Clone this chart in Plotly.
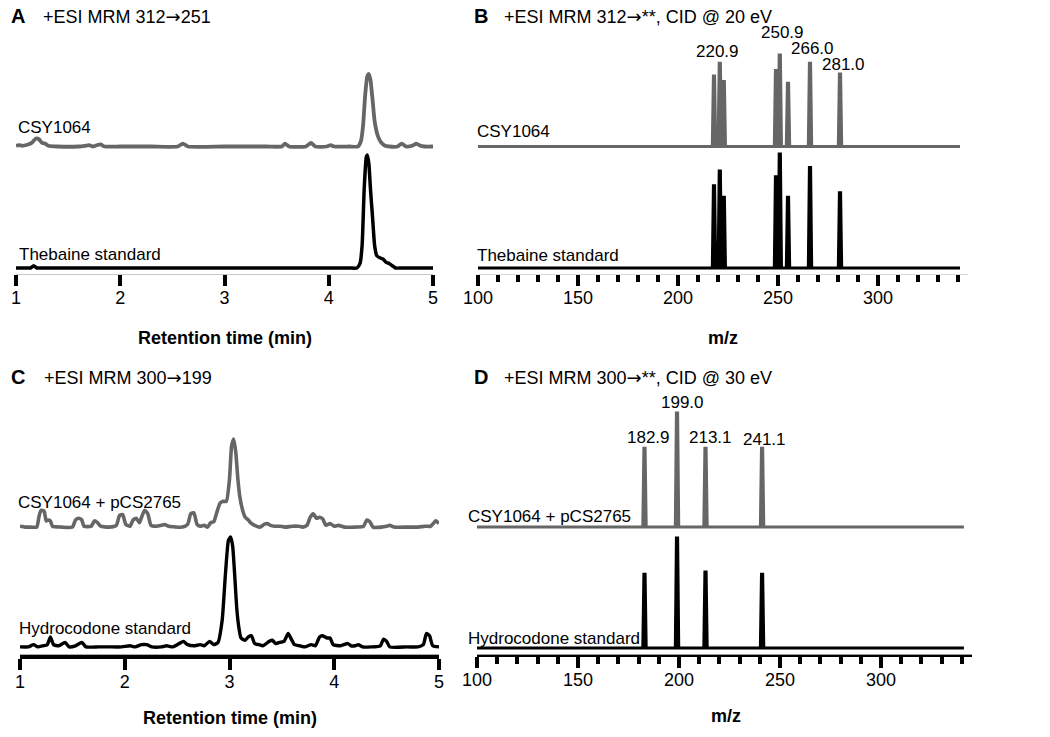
import plotly.graph_objects as go

W, H = 1050, 737

# ---------------- data ----------------
# Panel A: +ESI MRM 312->251, relative intensity (%), each trace normalised to its own maximum
a_csy_time = [1.00, 1.03, 1.06, 1.10, 1.15, 1.19, 1.22, 1.25, 1.28, 1.31, 1.40, 1.60, 1.66, 1.70,
              1.74, 1.78, 1.81, 1.85, 2.00, 2.30, 2.55, 2.60, 2.65, 3.00, 3.40, 3.55, 3.58, 3.62,
              3.78, 3.83, 3.87, 3.98, 4.02, 4.05, 4.20, 4.28, 4.31, 4.33, 4.35, 4.37, 4.385, 4.40,
              4.42, 4.44, 4.47, 4.50, 4.54, 4.58, 4.66, 4.70, 4.74, 4.80, 4.84, 4.88, 4.92, 5.00]
a_csy_int = [1, 2, 1, 2, 5, 11, 10, 5, 4, 1, 0, 0, 1, 2,
             0, 2, 3, 0, 0, 0, 0, 4, 0, 0, 0, 0, 4, 0,
             0, 5, 0, 0, 2, 0, 0, 0, 8, 30, 72, 97, 100, 92,
             65, 35, 15, 6, 1, 0, 0, 4, 0, 1, 4, 1, 0, 0]
a_the_time = [1.00, 1.10, 1.14, 1.17, 1.20, 1.25, 1.50, 2.00, 2.50, 3.00, 3.50, 4.00, 4.20, 4.27,
              4.30, 4.32, 4.34, 4.36, 4.37, 4.385, 4.40, 4.42, 4.44, 4.46, 4.49, 4.52, 4.55, 4.58,
              4.61, 4.64, 4.70, 4.80, 5.00]
a_the_int = [0, 0, 0, 2, 0, 0, 0, 0, 0, 0, 0, 0, 0, 0,
             4, 20, 70, 98, 100, 92, 70, 45, 20, 11, 9, 8, 5, 4,
             2, 0, 0, 0, 0]

# Panel B: product ions of m/z 312, CID @ 20 eV (relative intensity %)
b_mz = [218.0, 220.9, 222.9, 249.0, 250.9, 255.0, 266.0, 281.0]
b_csy_int = [77, 91, 71, 83, 100, 69, 91, 79]
b_the_int = [72, 85, 62, 80, 100, 62, 88, 66]
b_peak_labels = ["220.9", "250.9", "266.0", "281.0"]

# Panel C: +ESI MRM 300->199
c_csy_time = [1.00, 1.05, 1.10, 1.16, 1.18, 1.20, 1.23, 1.25, 1.27, 1.29, 1.31, 1.40, 1.50, 1.53,
              1.56, 1.59, 1.61, 1.68, 1.71, 1.74, 1.77, 1.85, 1.92, 1.95, 1.98, 2.01, 2.05, 2.08,
              2.11, 2.14, 2.16, 2.19, 2.22, 2.25, 2.30, 2.35, 2.38, 2.42, 2.55, 2.60, 2.63, 2.66,
              2.69, 2.72, 2.76, 2.79, 2.82, 2.85, 2.88, 2.91, 2.94, 2.97, 3.00, 3.02, 3.04, 3.06,
              3.08, 3.10, 3.13, 3.15, 3.18, 3.20, 3.24, 3.29, 3.33, 3.36, 3.39, 3.43, 3.48, 3.53,
              3.60, 3.66, 3.70, 3.74, 3.77, 3.80, 3.83, 3.86, 3.89, 3.92, 3.96, 4.00, 4.04, 4.10,
              4.20, 4.28, 4.31, 4.34, 4.37, 4.45, 4.50, 4.53, 4.57, 4.70, 4.80, 4.87, 4.92, 4.97,
              5.00]
c_csy_int = [2, 1, 1, 1, 12, 20, 19, 8, 9, 8, 2, 1, 1, 9,
             11, 9, 2, 2, 8, 6, 2, 1, 3, 14, 15, 4, 2, 9,
             11, 6, 12, 20, 16, 3, 2, 3, 4, 2, 1, 4, 16, 17,
             4, 2, 3, 1, 6, 7, 18, 28, 30, 30, 55, 92, 100, 85,
             55, 34, 18, 12, 9, 6, 3, 1, 4, 5, 3, 2, 2, 1,
             2, 2, 1, 3, 12, 16, 11, 12, 10, 3, 5, 2, 3, 1,
             1, 2, 9, 7, 1, 1, 2, 3, 1, 1, 1, 2, 2, 8,
             5]
c_hyd_time = [1.00, 1.08, 1.13, 1.17, 1.22, 1.26, 1.29, 1.32, 1.37, 1.43, 1.47, 1.53, 1.59, 1.63,
              1.75, 1.85, 1.97, 2.05, 2.10, 2.16, 2.21, 2.26, 2.35, 2.40, 2.46, 2.52, 2.56, 2.60,
              2.66, 2.72, 2.76, 2.81, 2.85, 2.89, 2.93, 2.96, 2.99, 3.01, 3.03, 3.05, 3.07, 3.09,
              3.11, 3.15, 3.18, 3.21, 3.24, 3.28, 3.32, 3.38, 3.41, 3.44, 3.48, 3.52, 3.56, 3.59,
              3.62, 3.67, 3.72, 3.78, 3.82, 3.86, 3.89, 3.93, 3.96, 3.99, 4.06, 4.13, 4.16, 4.20,
              4.23, 4.27, 4.35, 4.44, 4.47, 4.50, 4.53, 4.70, 4.80, 4.85, 4.88, 4.91, 4.94, 5.00]
c_hyd_int = [1, 1, 3, 1, 2, 3, 10, 3, 2, 5, 1, 2, 5, 1,
             1, 1, 1, 2, 1, 3, 3, 1, 1, 2, 1, 4, 6, 3,
             2, 3, 2, 6, 3, 5, 25, 65, 97, 100, 92, 65, 35, 18,
             9, 7, 10, 11, 4, 3, 2, 6, 7, 4, 5, 6, 13, 8,
             3, 2, 1, 3, 2, 10, 11, 9, 9, 3, 2, 4, 2, 2,
             3, 1, 1, 2, 8, 6, 1, 1, 1, 3, 13, 11, 2, 1]

# Panel D: product ions of m/z 300, CID @ 30 eV (relative intensity %)
d_mz = [182.9, 199.0, 213.1, 241.1]
d_csy_int = [69, 100, 69, 69]
d_hyd_int = [67, 100, 69, 67]
d_peak_labels = ["182.9", "199.0", "213.1", "241.1"]

GRAY = "#666666"
BLACK = "#000000"
FONT = "Liberation Sans, Arial, Helvetica, sans-serif"
ARROW = '<span style="font-family:DejaVu Sans">\u2192</span>'


def stick_spectrum(mz, inten, lo=100, hi=341, half_base=0.8, half_top=0.25):
    xs, ys = [lo], [0]
    for m, i in sorted(zip(mz, inten)):
        xs += [m - half_base, m - half_top, m + half_top, m + half_base]
        ys += [0, i, i, 0]
    xs.append(hi)
    ys.append(0)
    return xs, ys


def px_x(px):
    return px / W


def px_y(py):
    return 1 - py / H


YLO, YHI = -6, 104


def ydom(base_px, top_px):
    s = (base_px - top_px) / 100.0
    bottom = base_px - YLO * s
    top = base_px - YHI * s
    return [px_y(bottom), px_y(top)]


fig = go.Figure()

b_csy_x, b_csy_y = stick_spectrum(b_mz, b_csy_int)
b_the_x, b_the_y = stick_spectrum(b_mz, b_the_int)
d_csy_x, d_csy_y = stick_spectrum(d_mz, d_csy_int)
d_hyd_x, d_hyd_y = stick_spectrum(d_mz, d_hyd_int)

traces = [
    (a_csy_time, a_csy_int, "x", "y", GRAY, 3.8, "spline"),
    (a_the_time, a_the_int, "x", "y2", BLACK, 3.5, "spline"),
    (b_csy_x, b_csy_y, "x2", "y3", GRAY, 3.2, "linear"),
    (b_the_x, b_the_y, "x2", "y4", BLACK, 3.2, "linear"),
    (c_csy_time, c_csy_int, "x3", "y5", GRAY, 3.6, "spline"),
    (c_hyd_time, c_hyd_int, "x3", "y6", BLACK, 3.4, "spline"),
    (d_csy_x, d_csy_y, "x4", "y7", GRAY, 3.2, "linear"),
    (d_hyd_x, d_hyd_y, "x4", "y8", BLACK, 3.2, "linear"),
]
for xs, ys, xa, ya, col, lw, shape in traces:
    line = dict(color=col, width=lw, shape=shape)
    if shape == "spline":
        line["smoothing"] = 0.5
    fig.add_trace(go.Scatter(x=xs, y=ys, xaxis=xa, yaxis=ya, mode="lines",
                             line=line, hoverinfo="skip", showlegend=False))

common_x = dict(showgrid=False, zeroline=False, showline=True, linecolor=BLACK, linewidth=5,
                ticks="outside", tickcolor=BLACK, tickwidth=4, ticklen=11,
                tickfont=dict(family=FONT, size=18, color=BLACK), anchor="free",
                fixedrange=True, automargin=False, ticklabelstandoff=-4)

layout = dict(width=W, height=H,
              margin=dict(l=0, r=0, t=0, b=0, pad=0, autoexpand=False),
              paper_bgcolor="white", plot_bgcolor="white", showlegend=False)

layout["xaxis"] = dict(common_x, domain=[px_x(16), px_x(433)], range=[1, 5],
                       tickvals=[1, 2, 3, 4, 5], position=px_y(272))
layout["xaxis2"] = dict(common_x, domain=[px_x(478), px_x(968)], range=[100, 345],
                        tick0=100, dtick=50, position=px_y(272),
                        minor=dict(dtick=10, tick0=100, ticks="outside", ticklen=7,
                                   tickwidth=4, tickcolor=BLACK))
layout["xaxis3"] = dict(common_x, domain=[px_x(20), px_x(439)], range=[1, 5],
                        tickvals=[1, 2, 3, 4, 5], position=px_y(656))
layout["xaxis4"] = dict(common_x, domain=[px_x(477), px_x(972)], range=[100, 345],
                        tick0=100, dtick=50, position=px_y(654),
                        minor=dict(dtick=10, tick0=100, ticks="outside", ticklen=7,
                                   tickwidth=4, tickcolor=BLACK))

ydefs = [
    ("yaxis", "x", 146.5, 74),
    ("yaxis2", "x", 268, 155),
    ("yaxis3", "x2", 146.5, 55),
    ("yaxis4", "x2", 268, 154),
    ("yaxis5", "x3", 528, 439),
    ("yaxis6", "x3", 648, 537),
    ("yaxis7", "x4", 527, 413),
    ("yaxis8", "x4", 648, 538),
]
for name, anchor, base, top in ydefs:
    layout[name] = dict(domain=ydom(base, top), range=[YLO, YHI], visible=False,
                        anchor=anchor, fixedrange=True, automargin=False)

ann = []


def text(s, x, y, size=17, bold=False, xanchor="left", color=BLACK):
    ann.append(dict(text=("<b>%s</b>" % s) if bold else s, x=px_x(x), y=px_y(y),
                    xref="paper", yref="paper", xanchor=xanchor, yanchor="middle",
                    showarrow=False, font=dict(family=FONT, size=size, color=color)))


# panel letters and titles
text("A", 9, 16, size=20, bold=True)
text("+ESI MRM 312" + ARROW + "251", 41, 16, size=18)
text("B", 472, 16, size=20, bold=True)
text("+ESI MRM 312" + ARROW + "**, CID @ 20 eV", 502, 16, size=18)
text("C", 9, 377, size=20, bold=True)
text("+ESI MRM 300" + ARROW + "199", 42, 377, size=18)
text("D", 472, 377, size=20, bold=True)
text("+ESI MRM 300" + ARROW + "**, CID @ 30 eV", 502, 377, size=18)

# trace labels
text("CSY1064", 16, 128)
text("Thebaine standard", 17, 254)
text("CSY1064", 475, 132)
text("Thebaine standard", 475, 256)
text("CSY1064 + pCS2765", 16, 502)
text("Hydrocodone standard", 17, 628)
text("CSY1064 + pCS2765", 466, 516)
text("Hydrocodone standard", 466, 638)

# peak labels
for s, (x, y) in zip(b_peak_labels, [(717, 51), (782, 32), (812, 48), (843, 64)]):
    text(s, x, y, xanchor="center")
for s, (x, y) in zip(d_peak_labels, [(648, 437), (682, 403), (710, 437), (764, 440)]):
    text(s, x, y, xanchor="center")

# axis titles
text("Retention time (min)", 225, 338, size=18, bold=True, xanchor="center")
text("m/z", 723, 338, size=18, bold=True, xanchor="center")
text("Retention time (min)", 230, 718, size=18, bold=True, xanchor="center")
text("m/z", 726, 716, size=18, bold=True, xanchor="center")

layout["annotations"] = ann
fig.update_layout(**layout)
# remove the browser's default 8 px page margin so the 1050x737 figure fills the window
fig.write_html("out.html", config={"displayModeBar": False, "staticPlot": True},
               post_script="document.body.style.margin='0px';")
